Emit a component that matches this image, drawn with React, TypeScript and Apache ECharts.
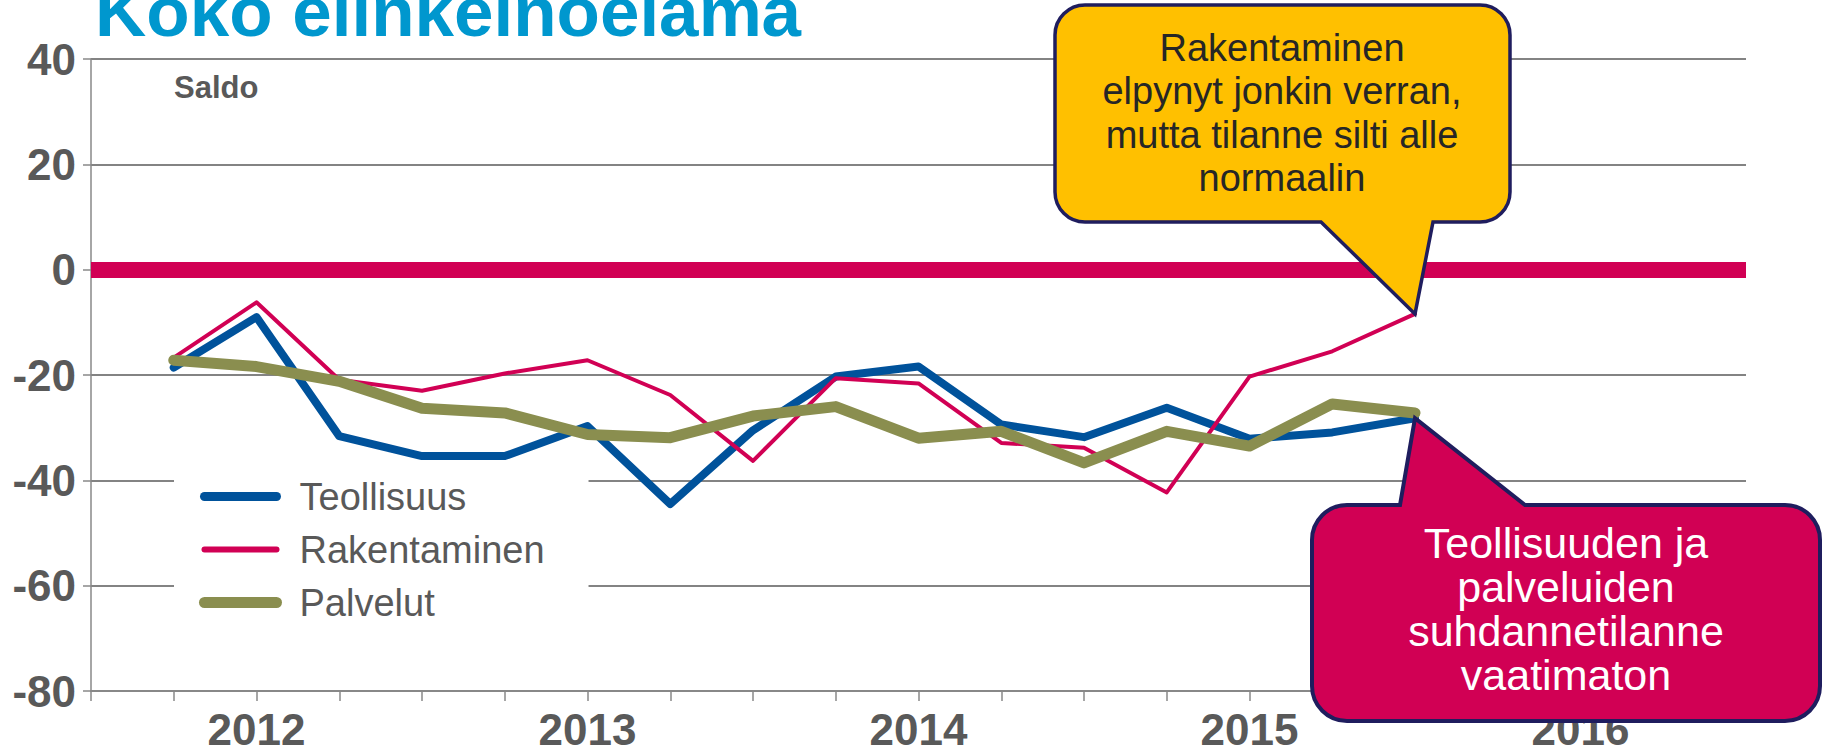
import React, { useEffect, useRef } from 'react';
import * as echarts from 'echarts';

// Category positions on the x axis (quarters); year label shown at each Q1
const axisQuarters = [
  '2011Q3', '2011Q4',
  '2012Q1', '2012Q2', '2012Q3', '2012Q4',
  '2013Q1', '2013Q2', '2013Q3', '2013Q4',
  '2014Q1', '2014Q2', '2014Q3', '2014Q4',
  '2015Q1', '2015Q2', '2015Q3', '2015Q4',
  '2016Q1', '2016Q2', '2016Q3',
];

// Quarters that carry data
const dataQuarters = [
  '2011Q4',
  '2012Q1', '2012Q2', '2012Q3', '2012Q4',
  '2013Q1', '2013Q2', '2013Q3', '2013Q4',
  '2014Q1', '2014Q2', '2014Q3', '2014Q4',
  '2015Q1', '2015Q2', '2015Q3',
];

const teollisuus = [-18.6, -9.0, -31.6, -35.4, -35.4, -29.7, -44.5, -30.5, -20.3, -18.4, -29.4, -31.8, -26.2, -32.1, -30.9, -28.2];
const rakentaminen = [-16.7, -6.2, -20.9, -23.0, -19.7, -17.2, -23.8, -36.3, -20.6, -21.6, -32.9, -33.8, -42.3, -20.3, -15.5, -8.4];
const palvelut = [-17.2, -18.4, -21.2, -26.3, -27.2, -31.3, -31.9, -27.8, -26.0, -32.0, -30.7, -36.7, -30.7, -33.5, -25.5, -27.2];

const seriesNames = ['Teollisuus', 'Rakentaminen', 'Palvelut'];
const yMin = -80;
const yMax = 40;
const yStep = 20;

const titleText = 'Koko elinkeinoelämä';
const unitText = 'Saldo';
const calloutYellowText = 'Rakentaminen\nelpynyt jonkin verran,\nmutta tilanne silti alle\nnormaalin';
const calloutRedText = 'Teollisuuden ja\npalveluiden\nsuhdannetilanne\nvaatimaton';

const FONT = 'Arial, "Liberation Sans", Helvetica, sans-serif';
const GRAY = '#595959';
const BLUE = '#00529B';
const RED = '#D10054';
const OLIVE = '#8A8E4F';
const NAVY = '#1F1D5E';

function calloutPath(
  x0: number, y0: number, x1: number, y1: number, r: number,
  b1: number, b2: number, tx: number, ty: number, pointerOnTop: boolean
) {
  const p: string[] = [];
  p.push(`M ${x0 + r} ${y0}`);
  if (pointerOnTop) {
    p.push(`L ${b1} ${y0}`, `L ${tx} ${ty}`, `L ${b2} ${y0}`);
  }
  p.push(`L ${x1 - r} ${y0}`);
  p.push(`A ${r} ${r} 0 0 1 ${x1} ${y0 + r}`);
  p.push(`L ${x1} ${y1 - r}`);
  p.push(`A ${r} ${r} 0 0 1 ${x1 - r} ${y1}`);
  if (!pointerOnTop) {
    p.push(`L ${b2} ${y1}`, `L ${tx} ${ty}`, `L ${b1} ${y1}`);
  }
  p.push(`L ${x0 + r} ${y1}`);
  p.push(`A ${r} ${r} 0 0 1 ${x0} ${y1 - r}`);
  p.push(`L ${x0} ${y0 + r}`);
  p.push(`A ${r} ${r} 0 0 1 ${x0 + r} ${y0}`);
  p.push('Z');
  return p.join(' ');
}

export default function App() {
  const ref = useRef<HTMLDivElement>(null);

  useEffect(() => {
    if (!ref.current) return;
    const chart = echarts.init(ref.current, null, { renderer: 'svg' });

    const mk = (name: string, values: number[], color: string, width: number, extra: any = {}) => ({
      name,
      type: 'line',
      data: dataQuarters.map((q, i) => [q, values[i]]),
      symbol: 'none',
      showSymbol: false,
      lineStyle: { color, width, cap: 'round', join: 'round' },
      itemStyle: { color },
      z: 3,
      ...extra,
    });

    const legendItem = (name: string, width: number) => ({
      name,
      lineStyle: { width, cap: 'round' },
      itemStyle: { opacity: 0, borderWidth: 0 },
    });

    chart.setOption({
      animation: false,
      backgroundColor: '#ffffff',
      grid: { left: 91, right: 76, top: 59, bottom: 56, containLabel: false },
      xAxis: {
        type: 'category',
        data: axisQuarters,
        boundaryGap: false,
        axisLine: { show: true, onZero: false, lineStyle: { color: '#888888', width: 2 } },
        axisTick: { show: true, interval: 0, length: 10, lineStyle: { color: '#888888', width: 1.5 } },
        axisLabel: {
          interval: 0,
          margin: 16,
          fontSize: 44,
          fontWeight: 'bold',
          color: GRAY,
          fontFamily: FONT,
          formatter: (v: string) => (v.endsWith('Q1') ? v.slice(0, 4) : ''),
        },
        splitLine: { show: false },
      },
      yAxis: {
        type: 'value',
        min: yMin,
        max: yMax,
        interval: yStep,
        axisLine: { show: true, lineStyle: { color: '#888888', width: 1.5 } },
        axisTick: { show: true, length: 8, lineStyle: { color: '#888888', width: 1.5 } },
        axisLabel: {
          margin: 15,
          fontSize: 44,
          fontWeight: 'bold',
          color: GRAY,
          fontFamily: FONT,
        },
        splitLine: { show: true, lineStyle: { color: '#5a5a5a', width: 1.5 } },
      },
      legend: {
        orient: 'vertical',
        left: 174,
        top: 466,
        padding: [4, 44, 4, 25],
        backgroundColor: '#ffffff',
        itemWidth: 72,
        itemHeight: 14,
        itemGap: 0,
        textStyle: { fontSize: 38, color: GRAY, fontFamily: FONT, lineHeight: 53, padding: [0, 0, 0, 18] },
        data: [
          legendItem(seriesNames[0], 9),
          legendItem(seriesNames[1], 6),
          legendItem(seriesNames[2], 11),
        ],
      },
      series: [
        mk(seriesNames[0], teollisuus, BLUE, 8, {
          markLine: {
            silent: true,
            symbol: 'none',
            label: { show: false },
            lineStyle: { color: RED, width: 16, type: 'solid' },
            data: [{ yAxis: 0 }],
            z: 2,
          },
        }),
        mk(seriesNames[1], rakentaminen, RED, 4),
        mk(seriesNames[2], palvelut, OLIVE, 11),
      ],
    });

    const last = dataQuarters.length - 1;
    const tipA = chart.convertToPixel({ gridIndex: 0 }, [axisQuarters.indexOf(dataQuarters[last]), rakentaminen[last]]) as number[];
    const tipB = chart.convertToPixel({ gridIndex: 0 }, [axisQuarters.indexOf(dataQuarters[last]), teollisuus[last]]) as number[];

    const dA = calloutPath(1055, 5, 1510, 222, 30, 1321, 1433, tipA[0], tipA[1], false);
    const dB = calloutPath(1312, 505, 1820, 721, 35, 1400, 1525, tipB[0], tipB[1], true);
    echarts.graphic.registerShape('calloutYellow', echarts.graphic.extendPath(dA, {}) as any);
    echarts.graphic.registerShape('calloutRed', echarts.graphic.extendPath(dB, {}) as any);

    chart.setOption({
      graphic: [
        {
          type: 'text',
          x: 95,
          y: 11,
          z: 50,
          style: {
            text: titleText,
            fill: '#0097CE',
            fontSize: 71,
            fontWeight: 'bold',
            fontFamily: FONT,
            align: 'left',
            verticalAlign: 'middle',
          },
        },
        {
          type: 'text',
          x: 174,
          y: 87,
          z: 50,
          style: {
            text: unitText,
            fill: GRAY,
            fontSize: 31,
            fontWeight: 'bold',
            fontFamily: FONT,
            align: 'left',
            verticalAlign: 'middle',
          },
        },
        {
          type: 'calloutYellow',
          x: 0,
          y: 0,
          z: 100,
          style: { fill: '#FFC000', stroke: NAVY, lineWidth: 3.5, lineJoin: 'miter' },
        },
        {
          type: 'text',
          x: 1282,
          y: 113,
          z: 101,
          style: {
            text: calloutYellowText,
            fill: '#262626',
            fontSize: 38,
            fontFamily: FONT,
            lineHeight: 43.5,
            align: 'center',
            verticalAlign: 'middle',
          },
        },
        {
          type: 'calloutRed',
          x: 0,
          y: 0,
          z: 100,
          style: { fill: RED, stroke: NAVY, lineWidth: 4, lineJoin: 'miter' },
        },
        {
          type: 'text',
          x: 1566,
          y: 609,
          z: 101,
          style: {
            text: calloutRedText,
            fill: '#ffffff',
            fontSize: 43,
            fontFamily: FONT,
            lineHeight: 44,
            align: 'center',
            verticalAlign: 'middle',
          },
        },
      ],
    });

    return () => chart.dispose();
  }, []);

  return (
    <div
      ref={ref}
      style={{ position: 'fixed', left: 0, top: 0, width: 1822, height: 751 }}
    />
  );
}
